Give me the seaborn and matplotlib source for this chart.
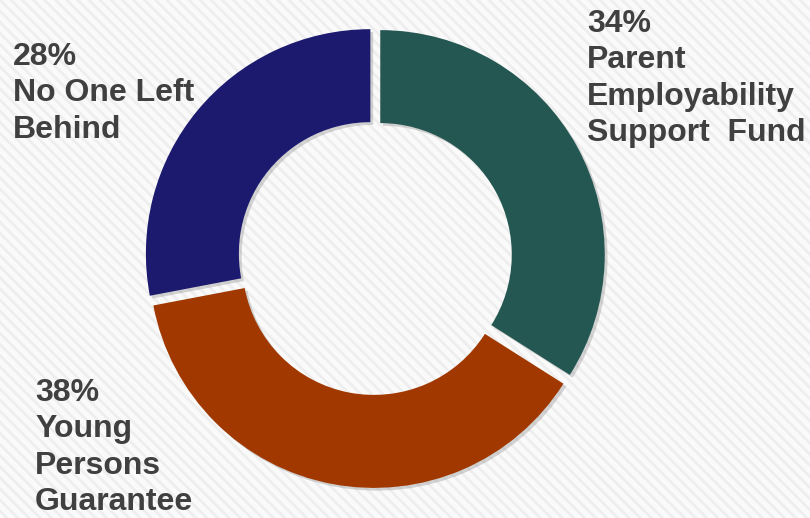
import matplotlib
matplotlib.use("Agg")
import matplotlib.pyplot as plt
import matplotlib.patheffects as pe
from matplotlib.patches import Rectangle
import seaborn as sns

categories = ["Parent\nEmployability\nSupport  Fund", "Young\nPersons\nGuarantee", "No One Left\nBehind"]
values = [34, 38, 28]
colors = ["#245752", "#A03800", "#1B1A6E"]

sns.set_theme(style="white")
plt.rcParams['font.family'] = ['Liberation Sans', 'DejaVu Sans']

W, H = 810, 518
fig = plt.figure(figsize=(W / 100, H / 100), dpi=100)
fig.patch.set_facecolor("#fafafa")
ax = fig.add_axes([0, 0, 1, 1])
ax.set_xlim(0, W)
ax.set_ylim(0, H)
ax.set_aspect("equal")
ax.axis("off")

plt.rcParams['hatch.linewidth'] = 2.0
bg = Rectangle((0, 0), W, H, facecolor="#fafafa", edgecolor="#eeeeee", hatch="\\\\\\", lw=0, zorder=0)
ax.add_patch(bg)

cx, cy, R = 375, H - 257.5, 224.5
wedges, _ = ax.pie(values, colors=colors, startangle=90, counterclock=False,
                   center=(cx, cy), radius=R, explode=[6] * 3,
                   wedgeprops=dict(width=93, linewidth=0),
                   frame=False)
for w in wedges:
    w.set_zorder(2)
    w.set_path_effects([pe.SimplePatchShadow(offset=(2, -2), shadow_rgbFace="#888888", alpha=0.35),
                        pe.Normal()])
ax.set_xlim(0, W)
ax.set_ylim(0, H)

labels_pos = [(587, 9), (35, 378), (13, 42)]
for (x, y), cat, v in zip(labels_pos, categories, values):
    ax.text(x, H - y, f"{v}%\n{cat}", ha="left", va="top", fontsize=23,
            fontweight="bold", color="#404040", linespacing=1.28, zorder=3)

fig.savefig("out.png", dpi=100, facecolor=fig.get_facecolor())
